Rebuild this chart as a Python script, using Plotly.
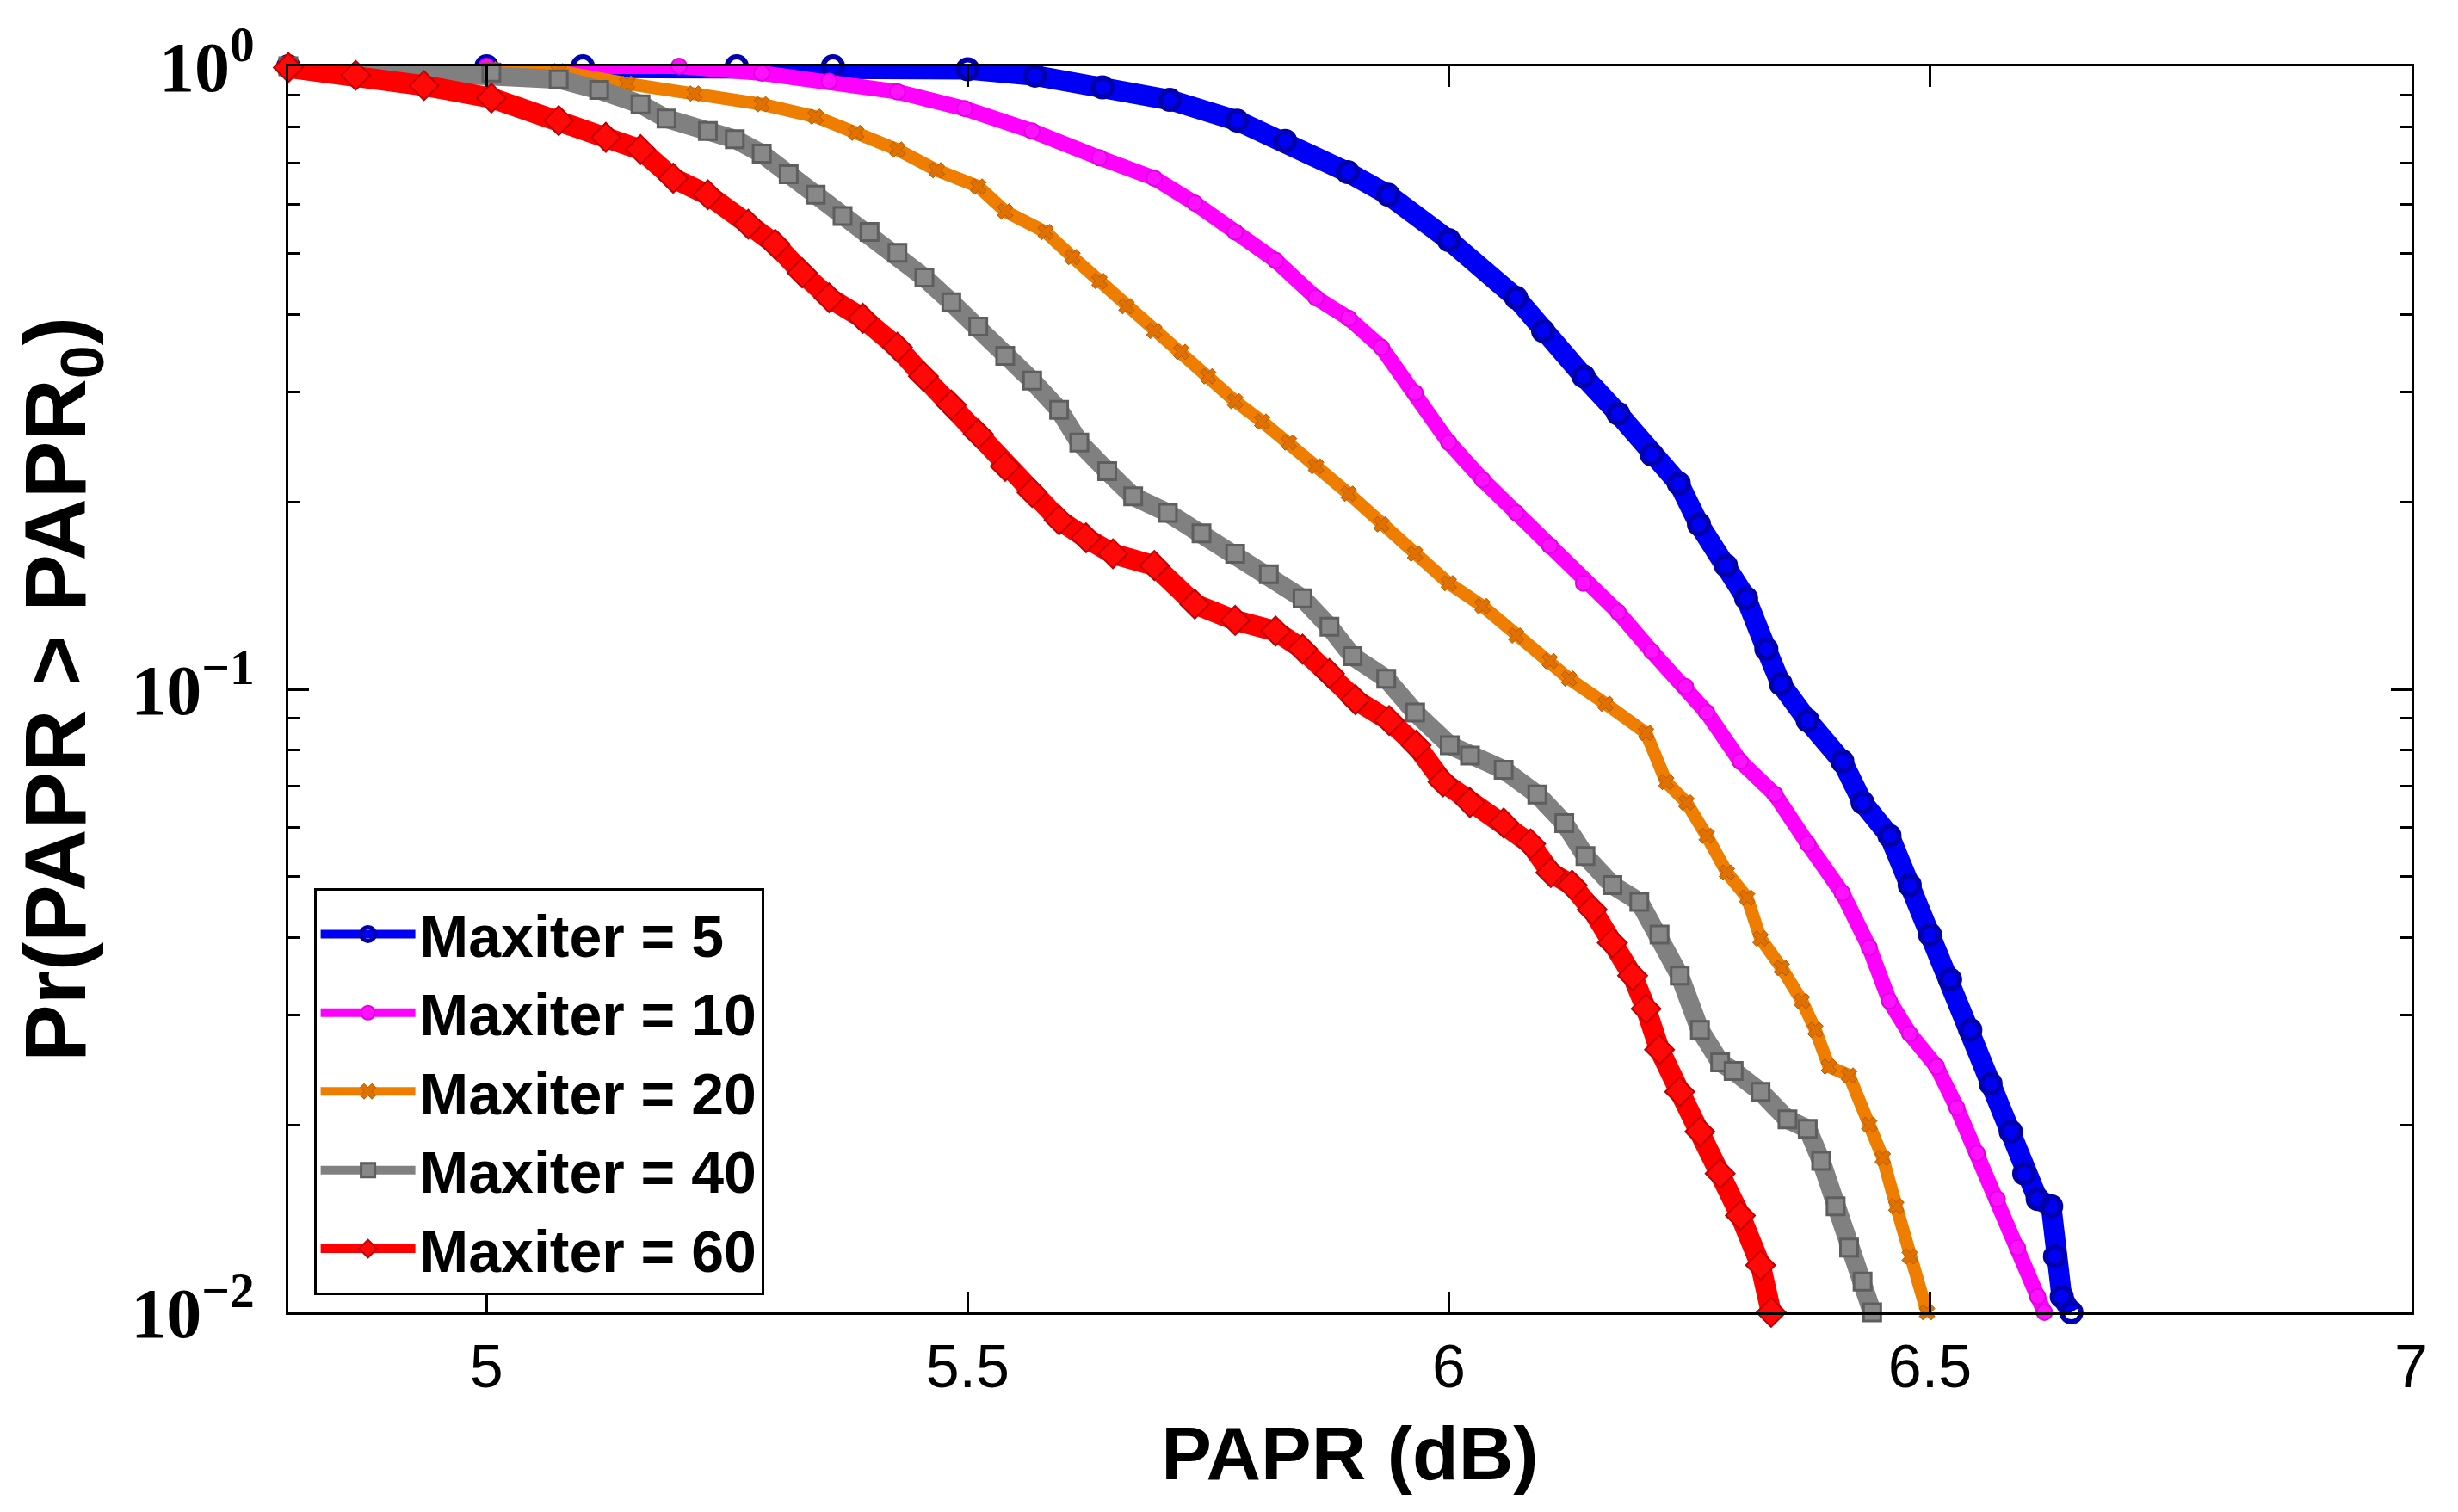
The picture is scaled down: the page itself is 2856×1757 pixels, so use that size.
import plotly.graph_objects as go

# ---------------- data ----------------
x_m5 = [4.794, 5.00, 5.10, 5.26, 5.36, 5.50, 5.57, 5.64, 5.71, 5.78, 5.83, 5.895, 5.937, 6.00,
        6.07, 6.098, 6.14, 6.176, 6.211, 6.239, 6.26, 6.288, 6.309, 6.33, 6.345, 6.373, 6.409,
        6.43, 6.458, 6.479, 6.50, 6.521, 6.542, 6.563, 6.584, 6.598, 6.612, 6.626, 6.630, 6.637, 6.647]
p_m5 = [1.0, 1.0, 1.0, 1.0, 1.0, 0.989, 0.966, 0.925, 0.883, 0.818, 0.759, 0.676, 0.622, 0.526,
        0.425, 0.376, 0.318, 0.277, 0.238, 0.214, 0.184, 0.158, 0.140, 0.116, 0.102, 0.0891, 0.0766,
        0.0658, 0.0582, 0.0485, 0.0404, 0.0342, 0.0284, 0.0233, 0.0195, 0.0167, 0.0152, 0.0148, 0.0123, 0.0106, 0.0100]

x_m10 = [4.794, 5.00, 5.20, 5.286, 5.356, 5.427, 5.497, 5.567, 5.637, 5.694, 5.736, 5.778, 5.820,
         5.862, 5.896, 5.930, 5.965, 6.0, 6.035, 6.070, 6.105, 6.140, 6.176, 6.211, 6.246, 6.268,
         6.303, 6.339, 6.373, 6.409, 6.437, 6.458, 6.479, 6.507, 6.528, 6.549, 6.570, 6.591, 6.612, 6.619]
p_m10 = [1.0, 1.0, 1.0, 0.975, 0.946, 0.910, 0.855, 0.787, 0.713, 0.661, 0.603, 0.542, 0.488,
         0.425, 0.394, 0.354, 0.299, 0.249, 0.217, 0.192, 0.170, 0.148, 0.133, 0.115, 0.101, 0.0918,
         0.0766, 0.0678, 0.0565, 0.0471, 0.0385, 0.0316, 0.0280, 0.0248, 0.0213, 0.0180, 0.0152, 0.0127, 0.0106, 0.0100]

x_m20 = [4.794, 5.005, 5.075, 5.146, 5.216, 5.286, 5.342, 5.384, 5.427, 5.468, 5.511, 5.539, 5.581,
         5.609, 5.637, 5.665, 5.694, 5.722, 5.750, 5.778, 5.806, 5.834, 5.862, 5.896, 5.930, 5.965,
         6.0, 6.035, 6.070, 6.105, 6.125, 6.163, 6.205, 6.226, 6.247, 6.268, 6.289, 6.310, 6.324,
         6.346, 6.367, 6.381, 6.395, 6.416, 6.437, 6.451, 6.465, 6.479, 6.497]
p_m20 = [1.0, 0.989, 0.982, 0.938, 0.904, 0.869, 0.830, 0.782, 0.735, 0.681, 0.641, 0.585, 0.542,
         0.494, 0.452, 0.412, 0.376, 0.348, 0.318, 0.290, 0.269, 0.249, 0.228, 0.206, 0.184, 0.165,
         0.148, 0.136, 0.122, 0.111, 0.104, 0.0948, 0.0851, 0.0710, 0.0658, 0.0582, 0.0508, 0.0463, 0.0398,
         0.0357, 0.0316, 0.0284, 0.0248, 0.0240, 0.0200, 0.0177, 0.0148, 0.0123, 0.0100]

x_m40 = [4.794, 5.005, 5.075, 5.117, 5.160, 5.187, 5.230, 5.258, 5.286, 5.314, 5.342, 5.370, 5.398,
         5.427, 5.455, 5.483, 5.511, 5.539, 5.567, 5.595, 5.616, 5.645, 5.672, 5.708, 5.743, 5.778,
         5.813, 5.848, 5.876, 5.900, 5.935, 5.965, 6.001, 6.022, 6.057, 6.092, 6.120, 6.142, 6.170,
         6.198, 6.219, 6.240, 6.261, 6.282, 6.296, 6.324, 6.352, 6.373, 6.387, 6.402, 6.416, 6.430, 6.440]
p_m40 = [1.0, 0.977, 0.953, 0.916, 0.869, 0.824, 0.787, 0.764, 0.724, 0.671, 0.622, 0.575, 0.542,
         0.502, 0.458, 0.418, 0.382, 0.343, 0.313, 0.281, 0.249, 0.224, 0.204, 0.192, 0.178, 0.165,
         0.153, 0.140, 0.126, 0.113, 0.104, 0.0918, 0.0813, 0.0783, 0.0743, 0.0678, 0.0610, 0.0540, 0.0485,
         0.0456, 0.0404, 0.0347, 0.0284, 0.0252, 0.0244, 0.0226, 0.0204, 0.0197, 0.0175, 0.0148, 0.0127, 0.0112, 0.0100]

x_m60 = [4.794, 4.864, 4.935, 5.005, 5.075, 5.124, 5.160, 5.194, 5.230, 5.272, 5.300, 5.328, 5.356,
         5.391, 5.427, 5.454, 5.483, 5.511, 5.539, 5.567, 5.595, 5.623, 5.651, 5.694, 5.736, 5.778,
         5.820, 5.848, 5.876, 5.903, 5.938, 5.966, 5.994, 6.022, 6.057, 6.085, 6.106, 6.128, 6.149,
         6.170, 6.191, 6.205, 6.219, 6.240, 6.261, 6.282, 6.303, 6.324, 6.335]
p_m60 = [0.995, 0.967, 0.931, 0.889, 0.818, 0.769, 0.735, 0.661, 0.622, 0.558, 0.518, 0.466, 0.425,
         0.394, 0.354, 0.318, 0.286, 0.257, 0.228, 0.207, 0.187, 0.175, 0.165, 0.158, 0.137, 0.129,
         0.124, 0.116, 0.106, 0.0962, 0.0891, 0.0813, 0.0710, 0.0658, 0.0610, 0.0565, 0.0508, 0.0485, 0.0443,
         0.0392, 0.0347, 0.0307, 0.0264, 0.0226, 0.0195, 0.0167, 0.0143, 0.0119, 0.0100]

series_names = ["Maxiter = 5", "Maxiter = 10", "Maxiter = 20", "Maxiter = 40", "Maxiter = 60"]
x_tick_vals = [5, 5.5, 6, 6.5, 7]
x_tick_text = ["5", "5.5", "6", "6.5", "7"]
y_tick_vals = [0.01, 0.1, 1]
y_tick_text = ["<b>10<sup>−2</sup></b>", "<b>10<sup>−1</sup></b>", "<b>10<sup>0</sup></b>"]

# ---------------- styles ----------------
styles = [
    dict(line=dict(color="#0000F5", width=24),
         marker=dict(symbol="circle-open", size=22, color="#0000B0", line=dict(width=6, color="#0000B0"))),
    dict(line=dict(color="#FF00FF", width=18),
         marker=dict(symbol="circle", size=18, color="#FF10FF", line=dict(width=2, color="#E000E0"))),
    dict(line=dict(color="#EE7D00", width=15),
         marker=dict(symbol="x", size=16, color="#E07000", line=dict(width=1, color="#B05800"))),
    dict(line=dict(color="#808080", width=22),
         marker=dict(symbol="square", size=20, color="#888888", line=dict(width=3, color="#5E5E5E"))),
    dict(line=dict(color="#FF0000", width=24),
         marker=dict(symbol="diamond", size=26, color="#FF0808", line=dict(width=2, color="#C00000"))),
]

xs = [x_m5, x_m10, x_m20, x_m40, x_m60]
ps = [p_m5, p_m10, p_m20, p_m40, p_m60]

fig = go.Figure()
for name, x, p, st in zip(series_names, xs, ps, styles):
    fig.add_trace(go.Scatter(x=x, y=p, name=name, mode="lines+markers",
                             line=st["line"], marker=st["marker"], cliponaxis=False))

axis_font = "Liberation Sans, Arial, sans-serif"

fig.update_layout(
    width=2856, height=1757,
    margin=dict(l=327, r=62, t=47, b=240),
    paper_bgcolor="white", plot_bgcolor="white",
    showlegend=True,
    legend=dict(x=0.012, y=0.014, xanchor="left", yanchor="bottom",
                bgcolor="white", bordercolor="black", borderwidth=3,
                font=dict(family=axis_font, size=68, color="black", weight="bold"),
                tracegroupgap=0, itemwidth=110,
                traceorder="normal"),
)

fig.update_xaxes(
    range=[4.794, 7.0005],
    tickvals=x_tick_vals, ticktext=x_tick_text,
    ticks="inside", ticklen=24, tickwidth=3, tickcolor="black",
    showline=True, linecolor="black", linewidth=3, mirror="allticks",
    showgrid=False, zeroline=False,
    tickfont=dict(family=axis_font, size=70, color="black"),
    ticklabelstandoff=0, ticklabeloverflow="allow",
    title=dict(text="<b>PAPR (dB)</b>", font=dict(family=axis_font, size=88, color="black"), standoff=32),
)

fig.update_yaxes(
    type="log", range=[-2, 0],
    tickvals=y_tick_vals, ticktext=y_tick_text,
    ticks="inside", ticklen=24, tickwidth=3, tickcolor="black",
    minor=dict(ticks="inside", ticklen=13, tickwidth=3, tickcolor="black", dtick="D1", showgrid=False),
    showline=True, linecolor="black", linewidth=3, mirror="allticks",
    showgrid=False, zeroline=False,
    tickfont=dict(family="Liberation Serif, Times New Roman, serif", size=82, color="black"),
    ticklabelstandoff=20, ticklabeloverflow="allow",
    title=dict(text="<b>Pr(PAPR > PAPR<sub>0</sub>)</b>",
               font=dict(family=axis_font, size=100, color="black"), standoff=26),
)

fig.write_html("out.html")
